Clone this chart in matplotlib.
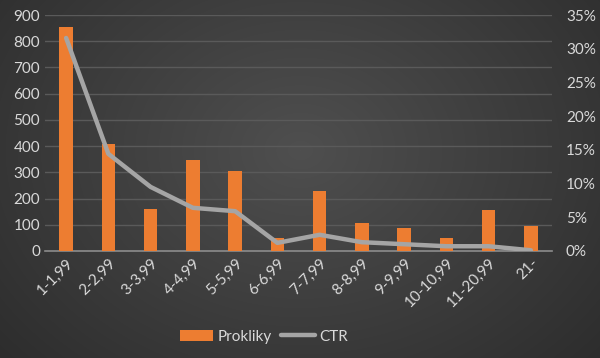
import numpy as np
import matplotlib
matplotlib.use("Agg")
import matplotlib.pyplot as plt
from matplotlib.ticker import FuncFormatter

categories = ["1-1,99", "2-2,99", "3-3,99", "4-4,99", "5-5,99", "6-6,99",
              "7-7,99", "8-8,99", "9-9,99", "10-10,99", "11-20,99", "21-"]
prokliky = [855, 408, 160, 347, 305, 48, 229, 107, 88, 50, 157, 96]
ctr = [31.6, 14.4, 9.5, 6.4, 5.9, 1.2, 2.4, 1.3, 1.0, 0.7, 0.7, 0.1]

plt.rcParams['font.family'] = ['Lato', 'DejaVu Sans']
txt = '#d9d9d9'

fig = plt.figure(figsize=(6, 3.58), dpi=100)

# dark radial background
bg = fig.add_axes([0, 0, 1, 1], zorder=-10)
yy, xx = np.mgrid[0:358, 0:600]
r = np.sqrt(((xx - 300) / 420.0) ** 2 + ((yy - 150) / 330.0) ** 2)
shade = np.clip(0.31 - 0.14 * r, 0.16, 0.31)
bg.imshow(np.dstack([shade] * 3), aspect='auto', extent=[0, 1, 0, 1])
bg.axis('off')

ax = fig.add_axes([0.075, 0.299, 0.845, 0.659])
ax.patch.set_alpha(0)
x = np.arange(len(categories))
bars = ax.bar(x, prokliky, width=0.32, color='#ed7d31', zorder=3, label='Prokliky')
ax.set_xlim(-0.5, len(categories) - 0.5)
ax.set_ylim(0, 900)
ax.set_yticks(range(0, 901, 100))
ax.grid(axis='y', color='#5a5a5a', linewidth=1, zorder=0)
for s in ['top', 'right', 'left']:
    ax.spines[s].set_visible(False)
ax.spines['bottom'].set_color('#8c8c8c')
ax.spines['bottom'].set_linewidth(1.2)
ax.tick_params(axis='both', length=0, colors=txt, labelsize=11)
ax.set_xticks(x)
ax.set_xticklabels(categories, rotation=45, ha='right', rotation_mode='anchor')

ax2 = ax.twinx()
ax2.patch.set_alpha(0)
line, = ax2.plot(x, ctr, color='#a5a5a5', linewidth=3.2, solid_capstyle='round',
                 zorder=4, label='CTR')
ax2.set_ylim(0, 35)
ax2.set_yticks(range(0, 36, 5))
ax2.yaxis.set_major_formatter(FuncFormatter(lambda v, p: '%d%%' % v))
for s in ax2.spines.values():
    s.set_visible(False)
ax2.tick_params(axis='y', length=0, colors=txt, labelsize=11, pad=10)

leg = fig.legend([bars, line], ['Prokliky', 'CTR'], loc='center',
                 bbox_to_anchor=(0.44, 0.06), ncol=2, frameon=False,
                 fontsize=11, labelcolor=txt, handlelength=2.2,
                 columnspacing=0.6, handletextpad=0.3)

fig.savefig('out.png', dpi=100)
